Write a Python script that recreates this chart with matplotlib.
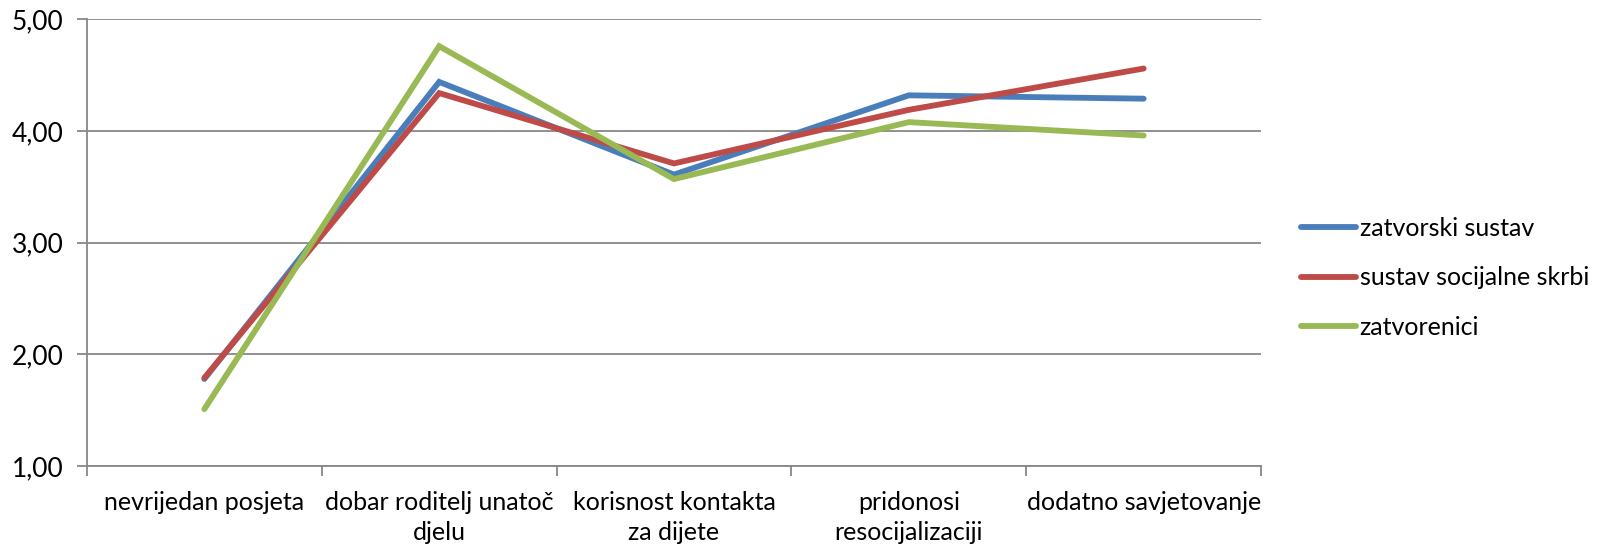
import matplotlib
matplotlib.use("Agg")
import matplotlib.pyplot as plt
import numpy as np

# data
categories = [
    "nevrijedan posjeta",
    "dobar roditelj unatoč\ndjelu",
    "korisnost kontakta\nza dijete",
    "pridonosi\nresocijalizaciji",
    "dodatno savjetovanje",
]
zatvorski_sustav = [1.78, 4.44, 3.61, 4.32, 4.29]
socijalna_skrb = [1.79, 4.34, 3.71, 4.19, 4.56]
zatvorenici = [1.51, 4.76, 3.57, 4.08, 3.96]

series_names = ["zatvorski sustav", "sustav socijalne skrbi", "zatvorenici"]
series_colors = ["#4A7EBB", "#BE4B48", "#98B954"]
y_ticks = [1.0, 2.0, 3.0, 4.0, 5.0]

plt.rcParams["font.family"] = ["Lato", "DejaVu Sans"]
grey = "#878787"
fs = 18

fig = plt.figure(figsize=(16.04, 5.49), dpi=100)
ax = fig.add_axes([0.0542, 0.151, 0.7320, 0.8137])

x = np.arange(len(categories))
for vals, name, col in zip([zatvorski_sustav, socijalna_skrb, zatvorenici],
                           series_names, series_colors):
    ax.plot(x, vals, color=col, lw=4.2, label=name, solid_capstyle="round",
            solid_joinstyle="miter")

ax.set_xlim(-0.5, len(categories) - 0.5)
ax.set_ylim(1, 5)
ax.set_yticks(y_ticks)
ax.set_yticklabels([f"{v:.2f}".replace(".", ",") for v in y_ticks])
ax.set_xticks(x)
ax.set_xticklabels(categories, linespacing=1.35)
ax.set_xticks(np.arange(-0.5, len(categories)), minor=True)
ax.tick_params(axis="x", which="major", length=0, pad=18, labelsize=fs)
ax.tick_params(axis="x", which="minor", length=7, width=1.3, color=grey)
ax.tick_params(axis="y", length=7, width=1.3, color=grey, labelsize=fs + 1, pad=10)

ax.grid(axis="y", color=grey, lw=1.3)
ax.set_axisbelow(True)
for s in ["top", "right"]:
    ax.spines[s].set_visible(False)
for s in ["left", "bottom"]:
    ax.spines[s].set_color(grey)
    ax.spines[s].set_linewidth(1.3)

fig.legend(loc="center left", bbox_to_anchor=(0.811, 0.494), frameon=False,
           fontsize=fs, handlelength=2.2, handletextpad=0.15, labelspacing=1.05,
           borderpad=0, borderaxespad=0)

fig.savefig("out.png", dpi=100)
